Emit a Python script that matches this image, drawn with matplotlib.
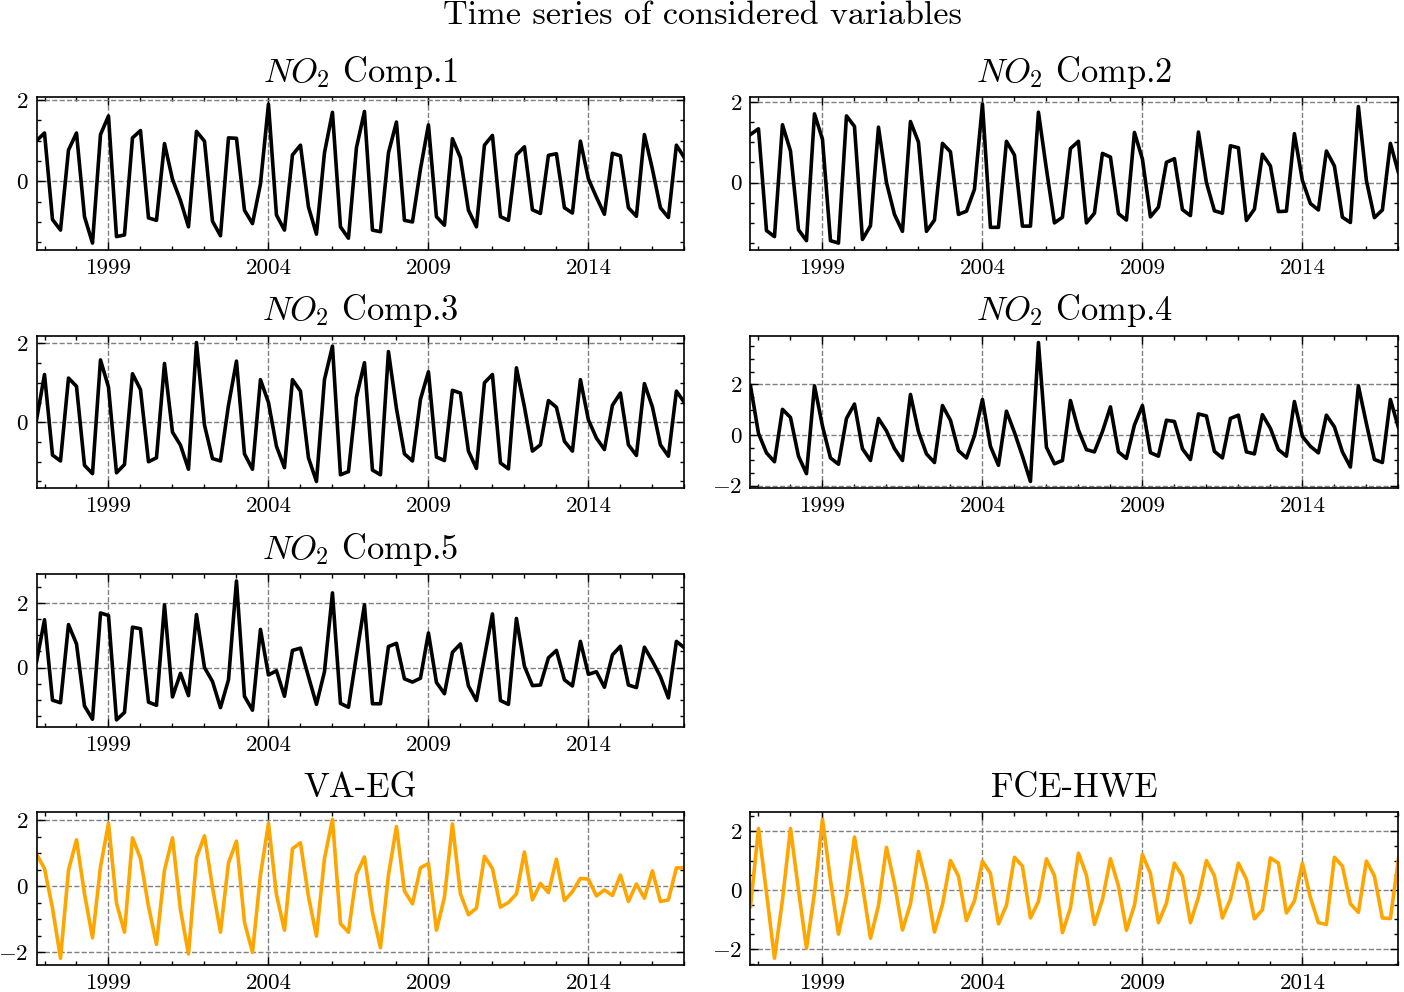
import matplotlib
matplotlib.use("Agg")
import matplotlib.pyplot as plt
import numpy as np
from matplotlib.ticker import MultipleLocator

# quarterly observations, 1996 Q4 to 2017 Q1
start_year = 1996.75
n_obs = 82
tick_years = [1999, 2004, 2009, 2014]

no2_comp1 = [1.0, 1.19, -0.94, -1.2, 0.77, 1.19, -0.87, -1.52, 1.15, 1.61,
             -1.36, -1.32, 1.07, 1.25, -0.9, -0.96, 0.93, 0.05, -0.47, -1.12,
             1.23, 0.99, -0.98, -1.34, 1.07, 1.06, -0.71, -1.04, -0.06, 1.9,
             -0.83, -1.2, 0.65, 0.89, -0.63, -1.3, 0.7, 1.7, -1.12, -1.4,
             0.83, 1.72, -1.2, -1.24, 0.7, 1.46, -0.96, -1.0, 0.3, 1.39,
             -0.87, -1.08, 1.05, 0.58, -0.71, -1.12, 0.89, 1.13, -0.87, -0.96,
             0.65, 0.85, -0.7, -0.79, 0.64, 0.68, -0.65, -0.78, 0.99, 0.06,
             -0.39, -0.81, 0.69, 0.63, -0.65, -0.86, 1.15, 0.3, -0.65, -0.89,
             0.89, 0.58]
no2_comp2 = [1.19, 1.33, -1.19, -1.34, 1.43, 0.78, -1.17, -1.44, 1.7, 1.07,
             -1.44, -1.5, 1.65, 1.39, -1.41, -1.07, 1.37, 0.0, -0.79, -1.21,
             1.51, 1.0, -1.21, -0.93, 0.97, 0.76, -0.79, -0.71, -0.17, 1.94,
             -1.11, -1.11, 1.02, 0.68, -1.08, -1.08, 1.74, 0.33, -1.0, -0.86,
             0.84, 1.02, -1.0, -0.76, 0.72, 0.63, -0.77, -0.93, 1.24, 0.58,
             -0.85, -0.61, 0.5, 0.59, -0.67, -0.82, 1.25, 0.0, -0.7, -0.76,
             0.91, 0.86, -0.94, -0.66, 0.7, 0.41, -0.72, -0.71, 1.21, 0.05,
             -0.52, -0.68, 0.78, 0.41, -0.86, -0.99, 1.88, 0.05, -0.87, -0.68,
             0.97, 0.25]
no2_comp3 = [0.06, 1.21, -0.83, -0.98, 1.12, 0.91, -1.09, -1.3, 1.58, 0.89,
             -1.28, -1.07, 1.23, 0.83, -1.0, -0.9, 1.49, -0.25, -0.58, -1.19,
             2.02, -0.07, -0.92, -0.98, 0.43, 1.55, -0.8, -1.19, 1.08, 0.5,
             -0.61, -1.15, 1.08, 0.79, -0.9, -1.5, 1.08, 1.93, -1.33, -1.25,
             0.64, 1.51, -1.21, -1.33, 1.79, 0.35, -0.8, -0.98, 0.58, 1.28,
             -0.88, -0.97, 0.81, 0.74, -0.73, -1.17, 1.0, 1.21, -1.03, -1.18,
             1.38, 0.39, -0.73, -0.57, 0.55, 0.38, -0.48, -0.73, 1.08, 0.06,
             -0.4, -0.69, 0.43, 0.74, -0.57, -0.84, 0.98, 0.39, -0.57, -0.86,
             0.79, 0.5]
no2_comp4 = [1.94, 0.06, -0.71, -1.06, 1.01, 0.69, -0.84, -1.53, 1.94, 0.35,
             -0.91, -1.16, 0.65, 1.22, -0.54, -1.01, 0.65, 0.16, -0.54, -1.01,
             1.6, 0.13, -0.75, -1.09, 1.16, 0.58, -0.62, -0.91, -0.03, 1.4,
             -0.45, -1.2, 0.94, 0.1, -0.84, -1.84, 3.65, -0.49, -1.14, -1.01,
             1.36, 0.19, -0.58, -0.67, 0.13, 1.11, -0.67, -0.93, 0.39, 1.16,
             -0.7, -0.84, 0.58, 0.53, -0.56, -0.97, 0.83, 0.75, -0.65, -0.91,
             0.65, 0.78, -0.67, -0.75, 0.8, 0.26, -0.58, -0.84, 1.32, -0.06,
             -0.45, -0.71, 0.78, 0.32, -0.67, -1.27, 1.94, 0.45, -0.97, -1.09,
             1.4, 0.3]
no2_comp5 = [0.17, 1.48, -1.01, -1.09, 1.33, 0.73, -1.19, -1.6, 1.69, 1.61,
             -1.62, -1.39, 1.25, 1.2, -1.07, -1.17, 1.94, -0.91, -0.18, -0.87,
             1.64, 0.0, -0.43, -1.24, -0.38, 2.68, -0.89, -1.32, 1.18, -0.23,
             -0.1, -0.89, 0.53, 0.6, -0.28, -1.14, -0.13, 2.31, -1.11, -1.23,
             0.37, 1.94, -1.12, -1.12, 0.65, 0.75, -0.35, -0.45, -0.33, 1.07,
             -0.46, -0.81, 0.47, 0.73, -0.57, -1.02, 0.32, 1.66, -1.02, -1.14,
             1.52, 0.04, -0.56, -0.54, 0.3, 0.53, -0.38, -0.57, 0.81, -0.21,
             -0.13, -0.61, 0.39, 0.66, -0.54, -0.62, 0.63, 0.2, -0.28, -0.94,
             0.81, 0.61]
va_eg = [0.96, 0.53, -0.67, -2.19, 0.48, 1.4, -0.24, -1.57, 0.58, 1.9,
         -0.52, -1.4, 1.46, 0.83, -0.62, -1.77, 0.48, 1.46, -0.72, -2.06,
         0.86, 1.52, -0.04, -1.4, 0.7, 1.36, -1.1, -2.01, 0.33, 1.9,
         -0.27, -1.34, 1.13, 1.31, -0.32, -1.52, 0.83, 2.02, -1.14, -1.4,
         0.35, 0.88, -0.8, -1.87, 0.33, 1.8, -0.15, -0.54, 0.55, 0.68,
         -1.34, -0.34, 1.88, -0.24, -0.87, -0.67, 0.9, 0.53, -0.64, -0.5,
         -0.24, 1.03, -0.42, 0.08, -0.2, 0.81, -0.44, -0.17, 0.23, 0.21,
         -0.3, -0.12, -0.29, 0.33, -0.47, 0.06, -0.37, 0.46, -0.47, -0.42,
         0.55, 0.55]
fce_hwe = [-0.56, 2.09, -0.1, -2.32, -0.33, 2.09, 0.0, -1.98, -0.11, 2.4,
           0.33, -1.5, -0.22, 1.8, 0.17, -1.64, -0.53, 1.45, 0.22, -1.36,
           -0.47, 1.31, 0.2, -1.43, -0.5, 1.0, 0.47, -1.04, -0.37, 0.98,
           0.56, -1.15, -0.52, 1.11, 0.81, -0.95, -0.39, 1.06, 0.5, -1.45,
           -0.61, 1.25, 0.5, -1.17, -0.33, 1.06, 0.14, -1.37, -0.52, 1.2,
           0.56, -1.11, -0.45, 0.91, 0.47, -1.11, -0.25, 1.0, 0.48, -0.95,
           -0.31, 0.91, 0.36, -0.98, -0.67, 1.09, 0.91, -0.78, -0.37, 0.91,
           -0.26, -1.11, -1.17, 1.11, 0.81, -0.47, -0.76, 0.98, 0.47, -0.95,
           -0.97, 1.05]

titles = [r"$NO_2$ Comp.1", r"$NO_2$ Comp.2", r"$NO_2$ Comp.3",
          r"$NO_2$ Comp.4", r"$NO_2$ Comp.5", "VA-EG", "FCE-HWE"]
series = [no2_comp1, no2_comp2, no2_comp3, no2_comp4, no2_comp5, va_eg, fce_hwe]
colors = ["black"] * 5 + ["orange"] * 2
# slot in the 4x2 grid for each series (row 3 right stays empty)
slots = [0, 1, 2, 3, 4, 6, 7]

years = start_year + 0.25 * np.arange(n_obs)

plt.rcParams.update({
    "font.family": "serif",
    "font.serif": ["cmr10"],
    "mathtext.fontset": "cm",
    "axes.formatter.use_mathtext": True,
    "axes.unicode_minus": True,
    "xtick.direction": "in",
    "ytick.direction": "in",
    "xtick.top": True,
    "ytick.right": True,
    "xtick.major.size": 3,
    "ytick.major.size": 3,
    "xtick.minor.size": 1.5,
    "ytick.minor.size": 1.5,
    "xtick.major.width": 0.5,
    "ytick.major.width": 0.5,
    "xtick.minor.width": 0.5,
    "ytick.minor.width": 0.5,
    "xtick.major.pad": 3.0,
    "ytick.major.pad": 3,
    "axes.linewidth": 0.6,
    "xtick.labelsize": 8.3,
    "ytick.labelsize": 8.3,
})

fig, axes = plt.subplots(4, 2, figsize=(7.02, 4.96), dpi=200)
axes = axes.flatten()

for slot, title, vals, col in zip(slots, titles, series, colors):
    ax = axes[slot]
    ax.plot(years, vals, color=col, lw=1.3)
    ax.set_title(title, fontsize=12.4, pad=5.5)
    ax.set_xlim(years[0], years[-1])
    ax.set_xticks(tick_years)
    ax.set_xticklabels([str(y) for y in tick_years])
    ax.xaxis.set_minor_locator(MultipleLocator(1))
    ax.yaxis.set_major_locator(MultipleLocator(2))
    ax.yaxis.set_minor_locator(MultipleLocator(0.5))
    ax.grid(True, which="major", ls="--", color="gray", lw=0.5)

fig.delaxes(axes[5])

fig.suptitle("Time series of considered variables", fontsize=12.3, y=0.999)
fig.subplots_adjust(left=0.026, right=0.996, top=0.902, bottom=0.027,
                    wspace=0.102, hspace=0.56)
fig.savefig("out.png", dpi=200)
